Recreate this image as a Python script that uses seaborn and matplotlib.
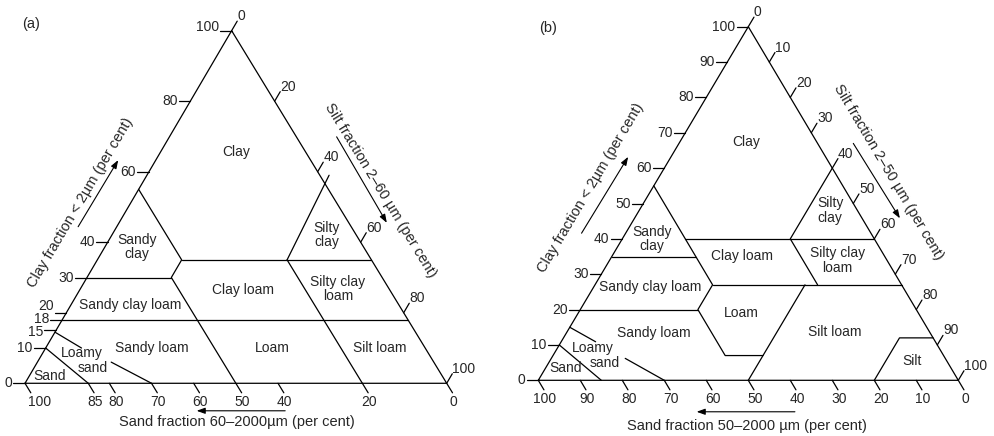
"""Soil texture triangles: (a) England and Wales classes, (b) USDA classes."""

import matplotlib

matplotlib.use("Agg")

import matplotlib.pyplot as plt
import pandas as pd
import seaborn as sns

# ---- (a) silt 2-60 um; class boundaries as (clay, silt) vertices in per cent ----
A_LINES = [
    [(0, 0), (0, 100), (100, 0), (0, 0)],
    [(55, 0), (35, 20), (30, 20), (0, 50)],
    [(30, 0), (30, 20)],
    [(35, 20), (35, 65)],
    [(35, 45), (59, 43.2)],
    [(35, 45), (0, 80)],
    [(18, 0), (18, 82)],
    [(14.5, 0), (10, 8.5)],
    [(6, 17.5), (0, 30)],
    [(10, 0), (0, 15)],
]
A_CLAY_TICKS = [0, 10, 15, 18, 20, 30, 40, 60, 80, 100]
A_SILT_TICKS = [0, 20, 40, 60, 80, 100]
A_SAND_TICKS = [100, 85, 80, 70, 60, 50, 40, 20, 0]
A_CLASSES = ["Clay", "Sandy\nclay", "Silty\nclay", "Clay loam", "Silty clay\nloam",
             "Sandy clay loam", "Sandy loam", "Loam", "Silt loam", "Loamy", "sand", "Sand"]
A_TITLES = ["Sand fraction 60\u20132000\u00b5m (per cent)",
            "Clay fraction < 2\u00b5m (per cent)",
            "Silt fraction 2\u201360 \u00b5m (per cent)"]

# ---- (b) silt 2-50 um (USDA) ----
B_LINES = [
    [(0, 0), (0, 100), (100, 0), (0, 0)],
    [(55, 0), (27, 28), (20, 28), (7, 41), (7, 50)],
    [(35, 0), (35, 20)],
    [(40, 15), (40, 60)],
    [(60, 40), (40, 40), (27, 53)],
    [(27, 28), (27, 73)],
    [(20, 0), (20, 28)],
    [(0, 50), (27, 50)],
    [(0, 80), (12, 80), (12, 88)],
    [(15, 0), (10.9, 8.2)],
    [(6.2, 17.6), (0, 30)],
    [(10, 0), (0, 15)],
]
B_CLAY_TICKS = list(range(0, 101, 10))
B_SILT_TICKS = list(range(0, 101, 10))
B_SAND_TICKS = list(range(100, -1, -10))
B_CLASSES = ["Clay", "Sandy\nclay", "Silty\nclay", "Clay loam", "Silty clay\nloam",
             "Sandy clay loam", "Loam", "Sandy loam", "Silt loam", "Silt",
             "Loamy", "sand", "Sand"]
B_TITLES = ["Sand fraction 50\u20132000 \u00b5m (per cent)",
            "Clay fraction < 2\u00b5m (per cent)",
            "Silt fraction 2\u201350 \u00b5m (per cent)"]

# layout (plot units: x = silt + shear*clay, y = clay)
A_CLASS_POS = [(50, 65.5), (26.6, 38.7), (71.6, 42.1), (51.7, 26.5), (74.2, 26.7),
               (24.9, 22.2), (30.1, 10.0), (58.6, 10.0), (84.2, 10.0), (13.4, 8.5),
               (16.1, 4.3), (5.9, 2.1)]
B_CLASS_POS = [(49.5, 67.5), (27.0, 40.0), (69.5, 48.0), (48.4, 35.2), (71.2, 33.9),
               (26.6, 26.3), (48.4, 18.9), (27.4, 13.5), (70.6, 13.7), (88.9, 5.5),
               (13.1, 9.05), (15.9, 5.0), (6.4, 3.4)]

PANELS = [
    dict(lines=A_LINES, clay=A_CLAY_TICKS, silt=A_SILT_TICKS, sand=A_SAND_TICKS,
         classes=A_CLASSES, class_pos=A_CLASS_POS, titles=A_TITLES, tag="(a)",
         shear=0.49, rect=[0, 0, 0.5, 1], xlim=(-5.93, 111.93), ylim=(-14.95, 108.7),
         title_pos=[(50.3, -10.9), (13.2, 51.3), (84.4, 54.8)], rot=(59.5, -58.6),
         arrows=[((61.7, -7.8), (40.7, -7.8)), ((12.6, 44.4), (22.1, 63.3)),
                 ((73.9, 69.9), (85.8, 45.5))],
         tag_pos=(1.4, 101.9),
         nudge={("clay", 20): (0, 7), ("clay", 18): (0, 1), ("clay", 15): (0, -2),
                ("clay", 100): (0, 4), ("sand", 100): (8, 0)}),
    dict(lines=B_LINES, clay=B_CLAY_TICKS, silt=B_SILT_TICKS, sand=B_SAND_TICKS,
         classes=B_CLASSES, class_pos=B_CLASS_POS, titles=B_TITLES, tag="(b)",
         shear=0.5, rect=[0.5, 0, 0.5, 1], xlim=(-9.83, 108.5), ylim=(-15.75, 107.55),
         title_pos=[(49.6, -12.8), (12.5, 54.3), (83.3, 58.8)], rot=(59.3, -59.3),
         arrows=[((61.1, -8.9), (37.7, -8.9)), ((10.3, 41.6), (21.4, 63.2)),
                 ((75.0, 67.0), (86.1, 45.8))],
         tag_pos=(2.4, 99.5), nudge={}),
]

TICK_X = 2.8   # horizontal clay tick, plot units
TICK_T = 2.7   # slanted silt / sand ticks, clay units
FS = 10.5
TICK_FS = 10


def draw_panel(ax, p):
    k = p["shear"]
    nudge = p["nudge"]
    rows = []
    seg = 0
    for pts in p["lines"]:
        for clay, silt in pts:
            rows.append({"seg": seg, "x": silt + k * clay, "y": clay})
        seg += 1

    labels = []
    for c in p["clay"]:
        x0, y0 = k * c, c
        x1, y1 = x0 - TICK_X, y0
        rows += [{"seg": seg, "x": x0, "y": y0}, {"seg": seg, "x": x1, "y": y1}]
        dx, dy = nudge.get(("clay", c), (0, 0))
        labels.append((str(c), x1, y1, "right", "center", (-1 + dx, dy)))
        seg += 1
    for s in p["silt"]:
        c = 100 - s
        x0, y0 = s + k * c, c
        x1, y1 = x0 + k * TICK_T, y0 + TICK_T
        rows += [{"seg": seg, "x": x0, "y": y0}, {"seg": seg, "x": x1, "y": y1}]
        dx, dy = nudge.get(("silt", s), (0, 0))
        labels.append((str(s), x1, y1, "left", "center", (dx, 5 + dy)))
        seg += 1
    for v in p["sand"]:
        x0, y0 = 100 - v, 0
        x1, y1 = x0 + (1 - k) * TICK_T, -TICK_T
        rows += [{"seg": seg, "x": x0, "y": y0}, {"seg": seg, "x": x1, "y": y1}]
        dx, dy = nudge.get(("sand", v), (0, 0))
        labels.append((str(v), x1, y1, "center", "top", (1 + dx, -2 + dy)))
        seg += 1

    frame = pd.DataFrame(rows)
    sns.lineplot(data=frame, x="x", y="y", units="seg", estimator=None, sort=False,
                 color="black", linewidth=0.9, ax=ax, legend=False)

    for text, x, y, ha, va, off in labels:
        ax.annotate(text, (x, y), xytext=off, textcoords="offset pixels",
                    ha=ha, va=va, fontsize=TICK_FS)

    for name, (x, y) in zip(p["classes"], p["class_pos"]):
        ax.text(x, y, name, ha="center", va="center", fontsize=10, linespacing=1.05)

    sand_t, clay_t, silt_t = p["titles"]
    (sx, sy), (cx, cy), (tx, ty) = p["title_pos"]
    ax.text(sx, sy, sand_t, ha="center", va="center", fontsize=FS)
    ax.text(cx, cy, clay_t, ha="center", va="center", fontsize=FS,
            rotation=p["rot"][0], rotation_mode="anchor")
    ax.text(tx, ty, silt_t, ha="center", va="center", fontsize=FS,
            rotation=p["rot"][1], rotation_mode="anchor")
    for start, tip in p["arrows"]:
        ax.annotate("", xy=tip, xytext=start,
                    arrowprops=dict(arrowstyle="-|>,head_length=0.5,head_width=0.18",
                                    color="black", lw=0.8, shrinkA=0, shrinkB=0))
    ax.text(*p["tag_pos"], p["tag"], ha="center", va="center", fontsize=FS)

    ax.set_xlim(*p["xlim"])
    ax.set_ylim(*p["ylim"])
    ax.set_axis_off()


sns.set_style("white")
plt.rcParams["font.family"] = ["Liberation Sans", "DejaVu Sans"]

fig = plt.figure(figsize=(9.94, 4.36), dpi=100)
for p in PANELS:
    ax = fig.add_axes(p["rect"])
    draw_panel(ax, p)

fig.savefig("out.png", dpi=100)
plt.close(fig)
